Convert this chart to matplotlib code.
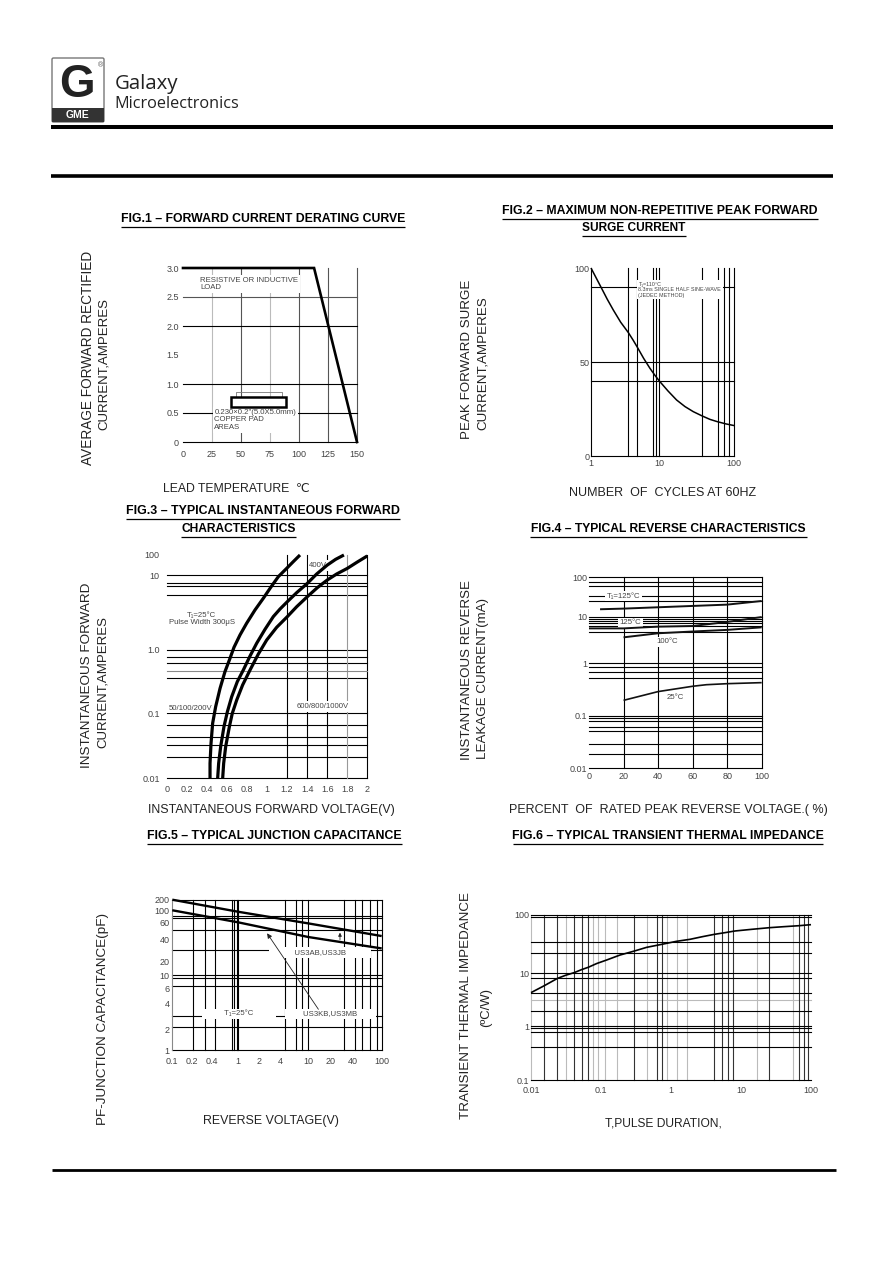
import numpy as np
import matplotlib
matplotlib.use("Agg")
import matplotlib.pyplot as plt
from matplotlib.patches import Rectangle, FancyBboxPatch

plt.rcParams['font.family'] = ['Liberation Sans', 'DejaVu Sans']

# ---------- data ----------
f1_temp = [0, 113, 150]
f1_curr = [3.0, 3.0, 0.0]
f1_xticks = [0, 25, 50, 75, 100, 125, 150]
f1_yticks = [0, 0.5, 1.0, 1.5, 2.0, 2.5, 3.0]
f1_ylabels = ['0', '0.5', '1.0', '1.5', '2.0', '2.5', '3.0']

f2_cycles = [1, 1.18, 1.43, 1.73, 2.12, 2.72, 3.52, 4.12, 4.77, 5.9, 7.3, 8.55, 10, 13.05, 17, 22,
             28.4, 37.4, 47.4, 59.3, 77.4, 100]
f2_surge = [100, 95, 89.2, 83.4, 77.7, 71.2, 65.7, 61.8, 57.9, 52, 46.7, 43.2, 40, 34.7, 29.9, 26.4,
            23.7, 21.4, 19.6, 18.4, 17.2, 16.3]
f2_vgrid = [3.5, 4.77, 8, 9, 10, 37, 60, 73, 86, 100]
f2_hgrid = [90, 50, 40]

f3_v1 = [.432, .432, .442, .458, .488, .532, .581, .625, .671, .731, .797, .880, .963, 1.037, 1.113,
         1.196, 1.262, 1.329]
f3_i1 = [.01, .017, .0345, .0702, .127, .248, .455, .695, 1.086, 1.59, 2.28, 3.43, 4.92, 6.9, 9.6,
         22, 47, 100]
f3_v2 = [.508, .518, .538, .571, .605, .648, .704, .764, .831, .897, .980, 1.063, 1.130, 1.203, 1.296,
         1.402, 1.495, 1.601, 1.684, 1.767]
f3_i2 = [.01, .017, .0307, .0624, .106, .183, .316, .483, .804, 1.23, 1.89, 2.8, 3.54, 4.44, 5.86,
         7.8, 11.6, 32, 61, 100]
f3_v3 = [.558, .568, .588, .625, .654, .698, .757, .831, .914, .997, 1.096, 1.203, 1.296, 1.402, 1.502,
         1.601, 1.694, 1.801, 1.900, 2.0]
f3_i3 = [.01, .017, .0307, .0624, .1, .162, .28, .483, .865, 1.36, 2.01, 2.8, 3.8, 5.18, 6.84,
         8.66, 11.6, 22, 45, 90]
f3_hgrid = [10, 8, 7.1, 5.4, 1, .77, .62, .36, .1, .065, .043, .033, .021, .01]
f3_vgrid = [1.2, 1.4, 1.6, 2.0]
f3_xticks = [0, .2, .4, .6, .8, 1, 1.2, 1.4, 1.6, 1.8, 2]
f3_xlabels = ['0', '0.2', '0.4', '0.6', '0.8', '1', '1.2', '1.4', '1.6', '1.8', '2']

f4_pct_a = [6.4, 20, 40, 60, 80, 100]
f4_ma_a = [15.4, 16, 17.3, 18.7, 20.2, 25]
f4_pct_b = [0, 20, 40, 60, 80, 100]
f4_ma_b = [5.6, 5.6, 6.1, 6.3, 7.7, 9.8]
f4_pct_c = [20, 40, 60, 80, 100]
f4_ma_c = [3.6, 4.4, 4.8, 5.2, 5.9]
f4_pct_d = [20, 40, 60, 68, 80, 100]
f4_ma_d = [.196, .288, .364, .39, .408, .427]
f4_hgrid = [100, 76, 59, 33, 24.5, 10, 9.06, 8.2, 7.3, 6.2, 4.6, 1, .86, .68, .53,
            .1, .089, .079, .062, .051, .0286, .0185, .01]
f4_vgrid = [20, 40, 60, 80, 100]

f5_volt = [0.1, 1, 10, 100]
f5_top = [200, 93, 58.5, 43]
f5_bot = [99, 60, 42, 30]
f5_vgrid = [.208, .313, .449, .79, .86, .94, 1, 4.6, 6.6, 8.2, 10, 31, 43, 54, 69, 85, 100]
f5_hgrid = [200, 79, 70.6, 50, 29, 10, 8.8, 6.4, 2.87, 2.1, 1]
f5_ticks_x = [.1, .2, .4, 1, 2, 4, 10, 20, 40, 100]
f5_ticks_y = [1, 2, 4, 6, 10, 20, 40, 60, 100, 200]

f6_t = [.01, .0155, .0238, .0313, .0416, .053, .0659, .0865, .12, .187, .299, .449, .736, 1.2, 1.87,
        2.81, 4.16, 5.9, 8.2, 14.2, 25.4, 40.3, 68, 100]
f6_z = [4.3, 5.83, 8, 9.2, 10.3, 11.6, 12.7, 14.7, 16.9, 20.6, 24.1, 27.9, 31.4, 35.4, 38.3,
        42.5, 46.6, 49.8, 53.2, 56.8, 60.6, 63, 65.6, 68.3]
f6_vdark = [.0155, .0238, .0416, .053, .0659, .299, .638, .736, 4.16, 5.3, 6.6, 7.6, 25.4, 68, 79.4, 89.6]
f6_vlight = [.01, .0316, .078, .0916, .114, .168, .449, .867, 1.2, 1.67, 16.7, 56]
f6_hdark = [100, 93.6, 34.5, 22, 10, 8, 4.2, 1.95, 1, .9, .76, .4, .1]
f6_hlight = [3.1]

W, H = 892, 1263
fig = plt.figure(figsize=(W / 100, H / 100), dpi=100, facecolor='white')
page = fig.add_axes([0, 0, 1, 1], zorder=-1)
page.set_xlim(0, W)
page.set_ylim(H, 0)
page.axis('off')
rend = fig.canvas.get_renderer()


def fit(x0, x1, y, s, fs=9, **kw):
    """horizontal text fitted to a pixel span"""
    t = page.text((x0 + x1) / 2, y, s, fontsize=fs, ha='center', va='center', **kw)
    t.set_fontsize(fs * (x1 - x0) / t.get_window_extent(rend).width)
    return t


def vfit(x, y0, y1, s, fs=9, **kw):
    """rotated text fitted to a pixel span"""
    t = page.text(x, (y0 + y1) / 2, s, fontsize=fs, ha='center', va='center',
                  rotation=90, color='#222222', **kw)
    t.set_fontsize(fs * (y1 - y0) / t.get_window_extent(rend).height)
    return t


def title(x0, x1, y, s):
    fit(x0, x1, y, s, fontweight='bold', color='black')
    page.plot([x0, x1], [y + 7.5, y + 7.5], color='black', lw=0.9, solid_capstyle='butt')


def panel(x0, x1, ytop, ybot):
    ax = fig.add_axes([x0 / W, 1 - ybot / H, (x1 - x0) / W, (ybot - ytop) / H])
    ax.patch.set_alpha(0)
    for s in ax.spines.values():
        s.set_visible(False)
    ax.tick_params(length=0, labelsize=6.5, labelcolor='#444444', pad=3)
    return ax


def warp(ax, axis, vals, pos):
    lv = np.log10(vals)
    p = np.asarray(pos, float)
    p = (p - p[0]) / (p[-1] - p[0])
    fwd = lambda v: np.interp(np.log10(np.clip(v, 1e-12, None)), lv, p)
    inv = lambda f: 10 ** np.interp(f, p, lv)
    if axis == 'x':
        ax.set_xscale('function', functions=(fwd, inv))
        ax.set_xlim(vals[0], vals[-1])
    else:
        ax.set_yscale('function', functions=(fwd, inv))
        ax.set_ylim(vals[0], vals[-1])


def note(ax, x, y, s, fs=5.6, ha='center', **kw):
    ax.text(x, y, s, fontsize=fs, ha=ha, va='center', color='#444444', zorder=2,
            linespacing=1.1, bbox=dict(fc='white', ec='none', pad=1.2), **kw)


def grids(ax, v=(), h=(), color='black', lw=0.8):
    for a in v:
        ax.axvline(a, color=color, lw=lw, zorder=1, clip_on=False)
    for a in h:
        ax.axhline(a, color=color, lw=lw, zorder=1, clip_on=False)


def curve(ax, xs, ys, lw, color='black'):
    ax.plot(xs, ys, color=color, lw=lw, zorder=4, clip_on=False,
            solid_capstyle='butt', solid_joinstyle='round')


# ---------- page furniture ----------
page.plot([51, 833], [127, 127], color='black', lw=2.9, solid_capstyle='butt')
page.plot([51, 833], [176, 176], color='black', lw=2.6, solid_capstyle='butt')
page.plot([52, 836], [1170, 1170], color='black', lw=2.0, solid_capstyle='butt')
page.add_patch(FancyBboxPatch((52, 58), 52, 64, boxstyle='round,pad=0,rounding_size=1.5',
                              fc='white', ec='#777777', lw=1))
page.add_patch(Rectangle((52, 108), 52, 14, fc='#333333', ec='none'))
page.text(77, 85, 'G', fontsize=33, fontweight='bold', ha='center', va='center', color='#222222')
page.text(78, 115.5, 'GME', fontsize=7.5, fontweight='bold', ha='center', va='center', color='white')
page.text(100, 66, '\u00ae', fontsize=5, ha='center', va='center', color='#555555')
fit(114, 178, 84, 'Galaxy', fs=14, family='Open Sans', color='#222222')
fit(114, 239, 104, 'Microelectronics', fs=10, family='Open Sans', color='#222222')

# ---------- titles ----------
title(121, 405, 219, 'FIG.1 \u2013 FORWARD CURRENT DERATING CURVE')
title(502, 818, 211, 'FIG.2 \u2013 MAXIMUM NON-REPETITIVE PEAK FORWARD')
title(582, 686, 228, 'SURGE CURRENT')
title(126, 400, 511, 'FIG.3 \u2013 TYPICAL INSTANTANEOUS FORWARD')
title(181, 296, 529, 'CHARACTERISTICS')
title(530, 807, 529, 'FIG.4 \u2013 TYPICAL REVERSE CHARACTERISTICS')
title(147, 402, 836, 'FIG.5 \u2013 TYPICAL JUNCTION CAPACITANCE')
title(513, 823, 836, 'FIG.6 \u2013 TYPICAL TRANSIENT THERMAL IMPEDANCE')

# ---------- axis captions ----------
vfit(88, 251, 465, 'AVERAGE FORWARD RECTIFIED')
vfit(104, 298, 430, 'CURRENT,AMPERES')
fit(163, 310, 489, 'LEAD TEMPERATURE  \u2103', color='#222222')
vfit(467, 280, 439, 'PEAK FORWARD SURGE')
vfit(483, 297, 430, 'CURRENT,AMPERES')
fit(569, 756, 493, 'NUMBER  OF  CYCLES AT 60HZ', color='#222222')
vfit(87, 583, 768, 'INSTANTANEOUS FORWARD')
vfit(103, 617, 748, 'CURRENT,AMPERES')
fit(148, 395, 810, 'INSTANTANEOUS FORWARD VOLTAGE(V)', color='#222222')
vfit(467, 580, 760, 'INSTANTANEOUS REVERSE')
vfit(483, 598, 758, 'LEAKAGE CURRENT(mA)')
fit(509, 827, 810, 'PERCENT  OF  RATED PEAK REVERSE VOLTAGE.( %)', color='#222222')
vfit(103, 913, 1125, 'PF-JUNCTION CAPACITANCE(pF)')
fit(203, 338, 1121, 'REVERSE VOLTAGE(V)', color='#222222')
vfit(466, 893, 1118, 'TRANSIENT THERMAL IMPEDANCE')
vfit(486, 988, 1027, '(\u00baC/W)')
fit(605, 722, 1123, 'T,PULSE DURATION,', color='#222222')

# ---------- Fig.1 ----------
ax = panel(183, 357, 268, 442)
ax.set_xlim(0, 150)
ax.set_ylim(0, 3)
ax.set_xticks(f1_xticks)
ax.set_yticks(f1_yticks, f1_ylabels)
ax.tick_params(axis='x', pad=6)
grids(ax, v=[25, 75], color='#bbbbbb')
grids(ax, v=[50, 100, 125, 150], color='#555555')
grids(ax, h=[2.5], color='#555555')
grids(ax, h=[2, 1, 0.5, 0])
ax.plot(f1_temp, f1_curr, color='black', lw=1.9, zorder=4, solid_joinstyle='miter', clip_on=False)
note(ax, 15, 2.72, 'RESISTIVE OR INDUCTIVE\nLOAD', ha='left')
note(ax, 27, 0.38, '0.230\u00d70.2"(5.0X5.0mm)\nCOPPER PAD\nAREAS', ha='left')
ax.plot([45.5, 45.5, 85.5, 85.5], [0.77, 0.87, 0.87, 0.77], color='#777777', lw=0.6, zorder=3)
ax.add_patch(Rectangle((41.7, 0.6), 47.3, 0.17, fc='white', ec='black', lw=1.8, zorder=3))

# ---------- Fig.2 ----------
ax = panel(591, 734.3, 268, 456.3)
warp(ax, 'x', [1, 10, 100], [423, 628, 853])
ax.set_ylim(0, 100)
ax.set_xticks([1, 10, 100], ['1', '10', '100'])
ax.set_yticks([0, 50, 100], ['0', '50', '100'])
ax.tick_params(axis='y', pad=1)
ax.tick_params(axis='x', pad=2)
grids(ax, v=f2_vgrid, h=f2_hgrid)
grids(ax, v=[1], h=[0])
curve(ax, f2_cycles, f2_surge, 1.1)
note(ax, 4.95, 88.4, 'T\u2081=110\u00b0C\n8.3ms SINGLE HALF SINE-WAVE\n(JEDEC METHOD)', fs=3.9, ha='left')

# ---------- Fig.3 ----------
ax = panel(166.7, 367.3, 555, 778.3)
ax.set_xlim(0, 2)
warp(ax, 'y', [.01, .1, 1, 10, 100], [835, 640, 450, 226, 165])
ax.set_xticks(f3_xticks, f3_xlabels)
ax.set_yticks([.01, .1, 1, 10, 100], ['0.01', '0.1', '1.0', '10', '100'])
ax.tick_params(axis='x', pad=5)
ax.tick_params(axis='y', pad=5)
grids(ax, v=f3_vgrid, h=f3_hgrid)
grids(ax, v=[1.8], color='#999999')
grids(ax, h=[.47], color='#888888')
for vv, ii in [(f3_v1, f3_i1), (f3_v2, f3_i2), (f3_v3, f3_i3)]:
    curve(ax, vv, ii, 2.3)
note(ax, 0.35, 2.6, 'T\u2081=25\u00b0C\nPulse Width 300\u03bcS')
note(ax, 0.235, .12, '50/100/200V')
note(ax, 1.555, .128, '600/800/1000V')
note(ax, 1.51, 30, '400V')

# ---------- Fig.4 ----------
ax = panel(589, 761.7, 577.3, 768.3)
ax.set_xlim(0, 100)
warp(ax, 'y', [.01, .1, 1, 10, 100], [745, 587, 430, 290, 172])
ax.set_xticks([0, 20, 40, 60, 80, 100])
ax.set_yticks([.01, .1, 1, 10, 100], ['0.01', '0.1', '1', '10', '100'])
ax.tick_params(axis='y', pad=1)
ax.tick_params(axis='x', pad=3)
grids(ax, v=f4_vgrid, h=f4_hgrid)
for xx, yy in [(f4_pct_a, f4_ma_a), (f4_pct_b, f4_ma_b), (f4_pct_c, f4_ma_c)]:
    curve(ax, xx, yy, 1.4, '#111111')
curve(ax, f4_pct_d, f4_ma_d, 1.2, '#111111')
note(ax, 20, 33, 'T\u2081=125\u00b0C')
note(ax, 24, 7.4, '125\u00b0C')
note(ax, 45, 2.9, '100\u00b0C')
note(ax, 50, .225, '25\u00b0C')

# ---------- Fig.5 ----------
ax = panel(172.3, 381.7, 899.7, 1050)
warp(ax, 'x', [.1, 1, 10, 100], [247, 445, 655, 875])
warp(ax, 'y', f5_ticks_y, [675, 612, 535, 489, 450, 410, 342, 292, 255, 224])
ax.set_xticks(f5_ticks_x, ['0.1', '0.2', '0.4', '1', '2', '4', '10', '20', '40', '100'])
ax.set_yticks(f5_ticks_y, ['1', '2', '4', '6', '10', '20', '40', '60', '100', '200'])
ax.tick_params(axis='y', pad=2)
ax.tick_params(axis='x', pad=5)
grids(ax, v=f5_vgrid, h=f5_hgrid)
grids(ax, v=[.1], color='#888888')
curve(ax, f5_volt, f5_top, 1.7)
curve(ax, f5_volt, f5_bot, 1.7)
note(ax, 14.5, 26.5, '           US3AB,US3JB           ')
note(ax, 1.02, 3.0, '          T\u2081=25\u00b0C          ')
note(ax, 20, 3.0, '        US3KB,US3MB        ')
ax.annotate('', xy=(2.45, 48.6), xytext=(14.4, 3.2), zorder=5,
            arrowprops=dict(arrowstyle='-|>', color='#222222', lw=0.6, mutation_scale=7))
ax.annotate('', xy=(27, 50), xytext=(27, 36), zorder=5,
            arrowprops=dict(arrowstyle='-|>', color='#222222', lw=0.6, mutation_scale=5))

# ---------- Fig.6 ----------
ax = panel(531, 811, 915, 1080)
warp(ax, 'x', [.01, .1, 1, 10, 100], [0, 1, 2, 3, 4])
warp(ax, 'y', [.1, 1, 10, 100], [765, 603, 445, 270])
ax.set_xticks([.01, .1, 1, 10, 100], ['0.01', '0.1', '1', '10', '100'])
ax.set_yticks([.1, 1, 10, 100], ['0.1', '1', '10', '100'])
ax.tick_params(axis='x', pad=4)
ax.tick_params(axis='y', pad=1)
grids(ax, v=f6_vlight, h=f6_hlight, color='#bbbbbb')
grids(ax, v=f6_vdark, color='#333333')
grids(ax, h=f6_hdark)
curve(ax, f6_t, f6_z, 1.2)

fig.savefig('out.png', dpi=100, facecolor='white')
